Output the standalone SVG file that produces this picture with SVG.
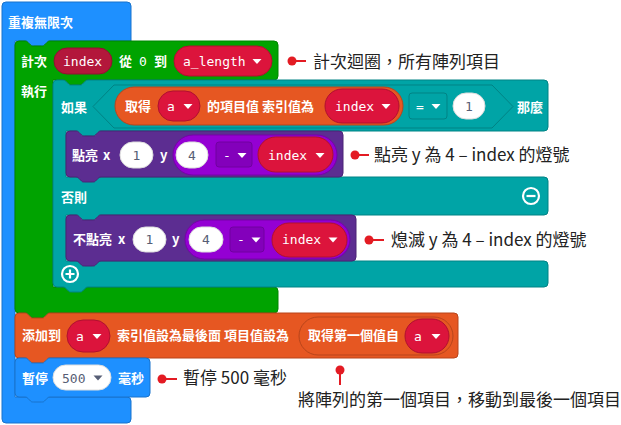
<svg xmlns="http://www.w3.org/2000/svg" width="621" height="425" viewBox="0 0 621 425">
<style>
.t{font-family:"Noto Sans CJK TC","Noto Sans",sans-serif;font-size:13px;font-weight:bold;fill:#fff}
.m{font-family:"DejaVu Sans Mono","Liberation Mono",monospace;font-size:13px;fill:#fff}
.g{font-family:"DejaVu Sans Mono","Liberation Mono",monospace;font-size:13px;fill:#575e75}
.a{font-family:"Noto Sans CJK TC","Noto Sans",sans-serif;font-size:17px;fill:#222}
.tri{fill:#fff}
.blue{fill:#1e90ff;stroke:#1873cc;stroke-width:1}
.green{fill:#00a300;stroke:#008500;stroke-width:1}
.teal{fill:#00a4a6;stroke:#008385;stroke-width:1}
.purple{fill:#5c2d91;stroke:#4a2474;stroke-width:1}
.violet{fill:#9400d3;stroke:#7600a9;stroke-width:1}
.vbox{fill:#8300bb;stroke:#7000a0;stroke-width:1}
.orange{fill:#e65722;stroke:#b8451b;stroke-width:1}
.red{fill:#dc143c;stroke:#b0102f;stroke-width:1}
.dred{fill:#b3173b;stroke:#8f1230;stroke-width:1}
.white{fill:#fff;stroke:#ddd;stroke-width:1}
.callout{stroke:#e31b23;stroke-width:2;fill:none}
.dot{fill:#e31b23}
.icon{fill:none;stroke:#fff;stroke-width:2.2}
</style>

<g id="block-forever">
<path class="blue" d="M2,6 a4,4 0 0 1 4,-4 H127 a4,4 0 0 1 4,4 V41 H50 c-2,0 -2.5,1 -3.5,2 l-2,2 c-1,1 -1.5,1 -3,1 h-8 c-1.5,0 -2,0 -3,-1 l-2,-2 c-1,-1 -1.5,-2 -3.5,-2 H15 V397 H127 a4,4 0 0 1 4,4 V419 a4,4 0 0 1 -4,4 H6 a4,4 0 0 1 -4,-4 Z"/>
<text class="t" x="8" y="27">重複無限次</text>
</g>

<g id="block-for">
<path class="green" d="M15,45 a4,4 0 0 1 4,-4 H25 c2,0 2.5,1 3.5,2 l2,2 c1,1 1.5,1 3,1 h8 c1.5,0 2,0 3,-1 l2,-2 c1,-1 1.5,-2 3.5,-2 H274 a4,4 0 0 1 4,4 V76 a4,4 0 0 1 -4,4 H88 c-2,0 -2.5,1 -3.5,2 l-2,2 c-1,1 -1.5,1 -3,1 h-8 c-1.5,0 -2,0 -3,-1 l-2,-2 c-1,-1 -1.5,-2 -3.5,-2 H53 V287 H274 a4,4 0 0 1 4,4 V309 a4,4 0 0 1 -4,4 H50 c-2,0 -2.5,1 -3.5,2 l-2,2 c-1,1 -1.5,1 -3,1 h-8 c-1.5,0 -2,0 -3,-1 l-2,-2 c-1,-1 -1.5,-2 -3.5,-2 H19 a4,4 0 0 1 -4,-4 Z"/>
<text class="t" x="21" y="65.5">計次</text>
<rect class="dred" x="54" y="48" width="58" height="26" rx="13"/>
<text class="m" x="63" y="65.5">index</text>
<text class="t" x="119" y="65.5">從</text>
<text class="m" x="139" y="65.5">0</text>
<text class="t" x="154" y="65.5">到</text>
<rect class="red" x="174" y="46" width="98" height="30" rx="15"/>
<text class="m" x="183" y="65.5">a_length</text>
<path class="tri" d="M252.5,59 h9 l-4.5,5 z"/>
<text class="t" x="21" y="95.5">執行</text>
</g>

<g id="block-if">
<path class="teal" d="M53,84 a4,4 0 0 1 4,-4 H63 c2,0 2.5,1 3.5,2 l2,2 c1,1 1.5,1 3,1 h8 c1.5,0 2,0 3,-1 l2,-2 c1,-1 1.5,-2 3.5,-2 H544 a4,4 0 0 1 4,4 V127 a4,4 0 0 1 -4,4 H101 c-2,0 -2.5,1 -3.5,2 l-2,2 c-1,1 -1.5,1 -3,1 h-8 c-1.5,0 -2,0 -3,-1 l-2,-2 c-1,-1 -1.5,-2 -3.5,-2 H66 V177 H544 a4,4 0 0 1 4,4 V211 a4,4 0 0 1 -4,4 H101 c-2,0 -2.5,1 -3.5,2 l-2,2 c-1,1 -1.5,1 -3,1 h-8 c-1.5,0 -2,0 -3,-1 l-2,-2 c-1,-1 -1.5,-2 -3.5,-2 H66 V261 H544 a4,4 0 0 1 4,4 V283 a4,4 0 0 1 -4,4 H88 c-2,0 -2.5,1 -3.5,2 l-2,2 c-1,1 -1.5,1 -3,1 h-8 c-1.5,0 -2,0 -3,-1 l-2,-2 c-1,-1 -1.5,-2 -3.5,-2 H57 a4,4 0 0 1 -4,-4 Z"/>
<text class="t" x="61" y="111.5">如果</text>
<path class="teal" d="M93,106.5 L114,85 H492 L513,106.5 L492,128 H114 Z"/>
<rect class="orange" x="115" y="87" width="288" height="38" rx="19"/>
<text class="t" x="125" y="111">取得</text>
<rect class="red" x="158" y="91" width="42" height="30" rx="15"/>
<text class="m" x="167" y="110.5">a</text>
<path class="tri" d="M183.5,104 h9 l-4.5,5 z"/>
<text class="t" x="207" y="111">的項目值 索引值為</text>
<rect class="red" x="325" y="89" width="74" height="34" rx="17"/>
<text class="m" x="335" y="110.5">index</text>
<path class="tri" d="M381.5,104 h9 l-4.5,5 z"/>
<rect class="teal" x="409" y="93" width="38" height="26" rx="3"/>
<text class="m" x="416" y="110.5">=</text>
<path class="tri" d="M431.5,104 h9 l-4.5,5 z"/>
<rect class="white" x="453" y="93" width="32" height="26" rx="13"/>
<text class="g" x="469" y="110.5" text-anchor="middle">1</text>
<text class="t" x="517" y="111.5">那麼</text>
<text class="t" x="61" y="201.5">否則</text>
<circle class="icon" cx="531" cy="196" r="8"/>
<path class="icon" d="M526.5,196 h9"/>
<circle class="icon" cx="70" cy="274" r="8"/>
<path class="icon" d="M65.5,274 h9 M70,269.5 v9"/>
</g>

<g id="block-plot">
<path class="purple" d="M66,135 a4,4 0 0 1 4,-4 H76 c2,0 2.5,1 3.5,2 l2,2 c1,1 1.5,1 3,1 h8 c1.5,0 2,0 3,-1 l2,-2 c1,-1 1.5,-2 3.5,-2 H339 a4,4 0 0 1 4,4 V173 a4,4 0 0 1 -4,4 H101 c-2,0 -2.5,1 -3.5,2 l-2,2 c-1,1 -1.5,1 -3,1 h-8 c-1.5,0 -2,0 -3,-1 l-2,-2 c-1,-1 -1.5,-2 -3.5,-2 H70 a4,4 0 0 1 -4,-4 Z"/>
<text class="t" x="72" y="159.5">點亮</text>
<text class="t" x="103" y="159.5">x</text>
<rect class="white" x="120" y="142" width="33" height="26" rx="13"/>
<text class="g" x="136.5" y="159.5" text-anchor="middle">1</text>
<text class="t" x="160" y="159.5">y</text>
<rect class="violet" x="173" y="135" width="164" height="40" rx="20"/>
<rect class="white" x="176" y="142" width="32" height="26" rx="13"/>
<text class="g" x="192" y="159.5" text-anchor="middle">4</text>
<rect class="vbox" x="216" y="142" width="36" height="25" rx="3"/>
<text class="m" x="223" y="159.5">-</text>
<path class="tri" d="M237.5,153 h9 l-4.5,5 z"/>
<rect class="red" x="258" y="137" width="75" height="35" rx="17.5"/>
<text class="m" x="268" y="159.5">index</text>
<path class="tri" d="M315.5,153 h9 l-4.5,5 z"/>
</g>

<g id="block-unplot">
<path class="purple" d="M66,219 a4,4 0 0 1 4,-4 H76 c2,0 2.5,1 3.5,2 l2,2 c1,1 1.5,1 3,1 h8 c1.5,0 2,0 3,-1 l2,-2 c1,-1 1.5,-2 3.5,-2 H352 a4,4 0 0 1 4,4 V257 a4,4 0 0 1 -4,4 H101 c-2,0 -2.5,1 -3.5,2 l-2,2 c-1,1 -1.5,1 -3,1 h-8 c-1.5,0 -2,0 -3,-1 l-2,-2 c-1,-1 -1.5,-2 -3.5,-2 H70 a4,4 0 0 1 -4,-4 Z"/>
<text class="t" x="73" y="243.5">不點亮</text>
<text class="t" x="118" y="243.5">x</text>
<rect class="white" x="133" y="227" width="33" height="25" rx="12.5"/>
<text class="g" x="149.5" y="244" text-anchor="middle">1</text>
<text class="t" x="172" y="243.5">y</text>
<rect class="violet" x="185" y="220" width="165" height="39" rx="19.5"/>
<rect class="white" x="189" y="227" width="34" height="25" rx="12.5"/>
<text class="g" x="206" y="244" text-anchor="middle">4</text>
<rect class="vbox" x="230" y="227" width="34" height="25" rx="3"/>
<text class="m" x="237" y="244">-</text>
<path class="tri" d="M251.5,237.5 h9 l-4.5,5 z"/>
<rect class="red" x="272" y="223" width="75" height="34" rx="17"/>
<text class="m" x="282" y="244">index</text>
<path class="tri" d="M328.5,237.5 h9 l-4.5,5 z"/>
</g>

<g id="block-insert">
<path class="orange" d="M15,317 a4,4 0 0 1 4,-4 H25 c2,0 2.5,1 3.5,2 l2,2 c1,1 1.5,1 3,1 h8 c1.5,0 2,0 3,-1 l2,-2 c1,-1 1.5,-2 3.5,-2 H454 a4,4 0 0 1 4,4 V354 a4,4 0 0 1 -4,4 H50 c-2,0 -2.5,1 -3.5,2 l-2,2 c-1,1 -1.5,1 -3,1 h-8 c-1.5,0 -2,0 -3,-1 l-2,-2 c-1,-1 -1.5,-2 -3.5,-2 H19 a4,4 0 0 1 -4,-4 Z"/>
<text class="t" x="22" y="340">添加到</text>
<rect class="red" x="67" y="320" width="43" height="32" rx="16"/>
<text class="m" x="76" y="340.5">a</text>
<path class="tri" d="M92.5,334 h9 l-4.5,5 z"/>
<text class="t" x="117" y="340">索引值設為最後面 項目值設為</text>
<rect class="orange" x="299" y="317" width="154" height="38" rx="19"/>
<text class="t" x="308" y="340">取得第一個值自</text>
<rect class="red" x="405" y="319" width="44" height="34" rx="17"/>
<text class="m" x="414" y="340.5">a</text>
<path class="tri" d="M431.5,334 h9 l-4.5,5 z"/>
</g>

<g id="block-pause">
<path class="blue" d="M15,362 a4,4 0 0 1 4,-4 H25 c2,0 2.5,1 3.5,2 l2,2 c1,1 1.5,1 3,1 h8 c1.5,0 2,0 3,-1 l2,-2 c1,-1 1.5,-2 3.5,-2 H146 a4,4 0 0 1 4,4 V393 a4,4 0 0 1 -4,4 H50 c-2,0 -2.5,1 -3.5,2 l-2,2 c-1,1 -1.5,1 -3,1 h-8 c-1.5,0 -2,0 -3,-1 l-2,-2 c-1,-1 -1.5,-2 -3.5,-2 H19 a4,4 0 0 1 -4,-4 Z"/>
<text class="t" x="22" y="382.5">暫停</text>
<rect class="white" x="53" y="365" width="58" height="25" rx="12.5"/>
<text class="g" x="62" y="382.5">500</text>
<path d="M93.5,375.5 h9 l-4.5,5 z" fill="#575e75"/>
<text class="t" x="118" y="382.5">毫秒</text>
</g>

<g id="connectors">
<circle class="dot" cx="292" cy="61" r="4.5"/>
<path class="callout" d="M292,61 H306"/>
<circle class="dot" cx="355" cy="155" r="4.5"/>
<path class="callout" d="M355,155 H369"/>
<circle class="dot" cx="369" cy="240" r="4.5"/>
<path class="callout" d="M369,240 H384"/>
<circle class="dot" cx="162" cy="379" r="4.5"/>
<path class="callout" d="M162,379 H177"/>
<circle class="dot" cx="340" cy="370" r="4.5"/>
<path class="callout" d="M340,370 V385"/>
</g>

<g id="note-for"><text class="a" x="313" y="68">計次迴圈，所有陣列項目</text></g>
<g id="note-plot"><text class="a" x="374" y="161">點亮 y 為 4 – index 的燈號</text></g>
<g id="note-unplot"><text class="a" x="391" y="246">熄滅 y 為 4 – index 的燈號</text></g>
<g id="note-pause"><text class="a" x="183" y="384">暫停 500 毫秒</text></g>
<g id="note-insert"><text class="a" x="298" y="406">將陣列的第一個項目，移動到最後一個項目</text></g>
</svg>
